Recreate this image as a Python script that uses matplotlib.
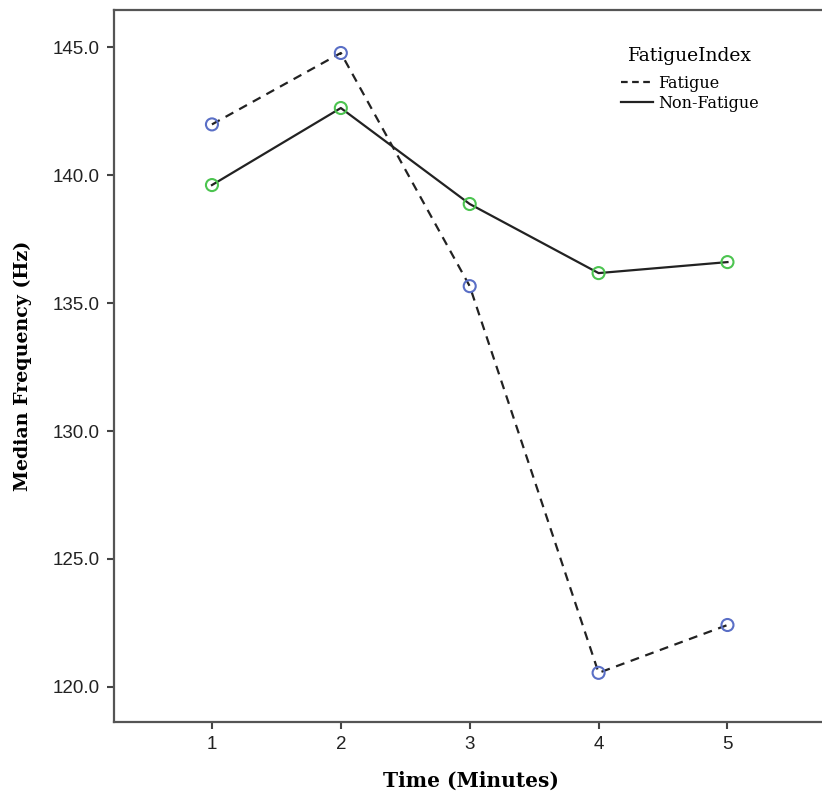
import matplotlib
matplotlib.use("Agg")
import matplotlib.pyplot as plt
from matplotlib.lines import Line2D

# data
time_min = [1, 2, 3, 4, 5]
fatigue = [141.98, 144.77, 135.66, 120.55, 122.42]
non_fatigue = [139.61, 142.62, 138.87, 136.17, 136.60]
y_ticks = [120.0, 125.0, 130.0, 135.0, 140.0, 145.0]

fig = plt.figure(figsize=(8.22, 7.98), dpi=100)
ax = fig.add_axes([114 / 822, 76 / 798, (828 - 114) / 822, (722 - 10) / 798])

ax.plot(time_min, fatigue, color="#222222", linestyle=(0, (4, 3)), linewidth=1.6, zorder=2)
ax.plot(time_min, non_fatigue, color="#222222", linestyle="-", linewidth=1.6, zorder=2)
ax.scatter(time_min, fatigue, s=75, facecolors="none", edgecolors="#5a6fc6", linewidths=1.5, zorder=3)
ax.scatter(time_min, non_fatigue, s=75, facecolors="none", edgecolors="#4cc450", linewidths=1.5, zorder=3)

ax.set_xlim(0.24, 5.78)
ax.set_ylim(118.63, 146.45)
ax.set_xticks(time_min)
ax.set_yticks(y_ticks)
ax.set_yticklabels([f"{v:.1f}" for v in y_ticks])

for side in ["left", "bottom", "top"]:
    ax.spines[side].set_color("#555555")
    ax.spines[side].set_linewidth(1.6)
ax.spines["right"].set_visible(False)

ax.tick_params(direction="out", length=5, width=1.5, color="#444444",
               labelsize=13.5, labelcolor="#222222", pad=5)
for lbl in ax.get_xticklabels() + ax.get_yticklabels():
    lbl.set_family("Liberation Sans")

ax.set_xlabel("Time (Minutes)", family="DejaVu Serif", fontweight="bold", fontsize=14.5)
ax.set_ylabel("Median Frequency (Hz)", family="DejaVu Serif", fontweight="bold", fontsize=13.7)
ax.xaxis.set_label_coords(0.5, -0.068)
ax.yaxis.set_label_coords(-0.115, 0.5)

handles = [Line2D([], [], color="#222222", linestyle=(0, (3, 2)), linewidth=1.6),
           Line2D([], [], color="#222222", linestyle="-", linewidth=1.6)]
leg = ax.legend(handles, ["Fatigue", "Non-Fatigue"], title="FatigueIndex",
                loc="upper left", bbox_to_anchor=(0.692, 0.966), frameon=False,
                prop={"family": "DejaVu Serif", "size": 11.5},
                handlelength=2.0, handletextpad=0.35, labelspacing=0.2,
                borderpad=0.3)
leg.get_title().set_family("DejaVu Serif")
leg.get_title().set_fontsize(13.5)
leg._legend_box.sep = 7

fig.savefig("out.png", dpi=100)
